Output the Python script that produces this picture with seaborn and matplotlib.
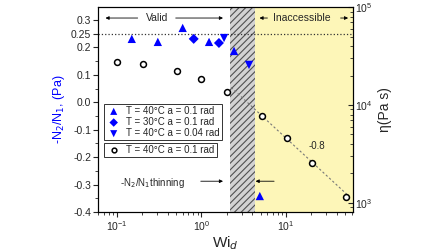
import pandas as pd
import numpy as np
import seaborn as sns
import matplotlib.pyplot as plt
from matplotlib.ticker import FixedLocator, MultipleLocator, LogLocator

sns.set_style('ticks')
plt.rcParams['font.family'] = ['Liberation Sans', 'DejaVu Sans']
plt.rcParams['hatch.color'] = '#505050'
plt.rcParams['hatch.linewidth'] = 0.8

# -N2/N1 data
wi_40_01 = [0.15, 0.305, 0.60, 1.23, 2.43, 4.9]
n2n1_40_01 = [0.231, 0.22, 0.271, 0.22, 0.187, -0.342]
wi_30_01 = [0.81, 1.61]
n2n1_30_01 = [0.231, 0.216]
wi_40_004 = [1.85, 3.65]
n2n1_40_004 = [0.234, 0.136]

# viscosity data
wi_eta = [0.1, 0.203, 0.51, 1.0, 2.0, 5.2, 10.2, 20.4, 51]
eta = [27500, 26200, 22200, 18400, 13600, 7730, 4600, 2560, 1150]

# power-law fit, slope -0.8
fit_wi = [2.25, 55]
fit_eta = [15100, 1180]

valid_limit = 2.2
inacc_limit = 4.3

d1 = pd.DataFrame({'Wi': wi_40_01, 'v': n2n1_40_01})
d2 = pd.DataFrame({'Wi': wi_30_01, 'v': n2n1_30_01})
d3 = pd.DataFrame({'Wi': wi_40_004, 'v': n2n1_40_004})
d4 = pd.DataFrame({'Wi': wi_eta, 'eta': eta})
d5 = pd.DataFrame({'Wi': fit_wi, 'eta': fit_eta})

fig, ax = plt.subplots(figsize=(4.48, 2.52), dpi=100)
fig.subplots_adjust(left=0.219, right=0.788, top=0.972, bottom=0.159)

ax.set_xscale('log')
ax.axvspan(valid_limit, inacc_limit, facecolor='#d2d2d2', edgecolor='#505050', hatch='/////', linewidth=0, zorder=0)
ax.axvspan(inacc_limit, 62, facecolor='#fdf6b8', linewidth=0, zorder=0)
ax.axhline(0.25, ls=':', color='#333333', lw=0.9, zorder=1)

sns.scatterplot(data=d1, x='Wi', y='v', ax=ax, marker='^', color='#0000ff', s=36, edgecolor='none', label='T = 40°C a = 0.1 rad', zorder=3)
sns.scatterplot(data=d2, x='Wi', y='v', ax=ax, marker='D', color='#0000ff', s=26, edgecolor='none', label='T = 30°C a = 0.1 rad', zorder=3)
sns.scatterplot(data=d3, x='Wi', y='v', ax=ax, marker='v', color='#0000ff', s=36, edgecolor='none', label='T = 40°C a = 0.04 rad', zorder=3)

ax.set_xlim(0.06, 62)
ax.set_ylim(-0.4, 0.347)
ax.yaxis.set_major_locator(FixedLocator([-0.4, -0.3, -0.2, -0.1, 0.0, 0.1, 0.2, 0.25, 0.3]))
ax.set_yticklabels(['-0.4', '-0.3', '-0.2', '-0.1', '0.0', '0.1', '0.2', '0.25', '0.3'])
ax.yaxis.set_minor_locator(MultipleLocator(0.05))
ax.tick_params(axis='both', which='major', labelsize=7.5, length=3.5, width=0.8, pad=1.5)
ax.tick_params(axis='both', which='minor', length=2, width=0.6)
ax.set_xlabel('Wi$_d$', fontsize=11, labelpad=1)
ax.set_ylabel('-N$_2$/N$_1$, (Pa)', fontsize=9, color='#0000ff', labelpad=3)

leg1 = ax.legend(loc='upper left', bbox_to_anchor=(0.023, 0.527), fontsize=7, frameon=True, fancybox=False,
                 edgecolor='black', handletextpad=0.5, borderpad=0.2, labelspacing=0.12, handlelength=1.6,
                 borderaxespad=0, markerscale=0.85)
leg1.get_frame().set_linewidth(0.7)

ax2 = ax.twinx()
ax2.set_yscale('log')
sns.lineplot(data=d5, x='Wi', y='eta', ax=ax2, color='#777777', lw=0.8, ls=(0, (2, 2)), zorder=2)
sns.scatterplot(data=d4, x='Wi', y='eta', ax=ax2, marker='o', facecolor='white', edgecolor='black', linewidth=1.1, s=18,
                label='T = 40°C a = 0.1 rad', zorder=3)
ax2.set_ylim(810, 1e5)
ax2.set_xlim(0.06, 62)
ax2.yaxis.set_minor_locator(LogLocator(base=10, subs=np.arange(2, 10)))
ax2.tick_params(axis='y', which='major', labelsize=7.5, length=3.5, width=0.8, pad=1.5, direction='in')
ax2.tick_params(axis='y', which='minor', length=2, width=0.6, direction='in')
ax2.set_ylabel('η(Pa s)', fontsize=10, labelpad=4)
ax2.set_xlabel('')
leg2 = ax2.legend(loc='upper left', bbox_to_anchor=(0.023, 0.337), fontsize=7, frameon=True, fancybox=False,
                  edgecolor='black', handletextpad=0.5, borderpad=0.2, handlelength=1.6, borderaxespad=0,
                  markerscale=0.8)
leg2.get_frame().set_linewidth(0.7)

for a in (ax, ax2):
    for s in a.spines.values():
        s.set_linewidth(0.8)
        s.set_color('black')

arrow = dict(arrowstyle='-|>', color='black', lw=0.6, mutation_scale=5)
ax.annotate('', xy=(0.068, 0.307), xytext=(0.19, 0.307), arrowprops=arrow)
ax.text(0.30, 0.307, 'Valid', fontsize=7.5, ha='center', va='center')
ax.annotate('', xy=(1.94, 0.307), xytext=(0.46, 0.307), arrowprops=arrow)
ax.annotate('', xy=(4.5, 0.307), xytext=(6.5, 0.307), arrowprops=arrow)
ax.text(15.5, 0.307, 'Inaccessible', fontsize=7.5, ha='center', va='center')
ax.annotate('', xy=(58.5, 0.307), xytext=(41, 0.307), arrowprops=arrow)

ax.text(0.266, -0.293, '-N$_2$/N$_1$thinning', fontsize=7, ha='center', va='center')
ax.annotate('', xy=(1.94, -0.288), xytext=(0.91, -0.288), arrowprops=arrow)
ax.annotate('', xy=(4.05, -0.288), xytext=(7.8, -0.288), arrowprops=arrow)
ax.text(23.2, -0.16, '-0.8', fontsize=7, ha='center', va='center')

fig.savefig('out.png', dpi=100)
